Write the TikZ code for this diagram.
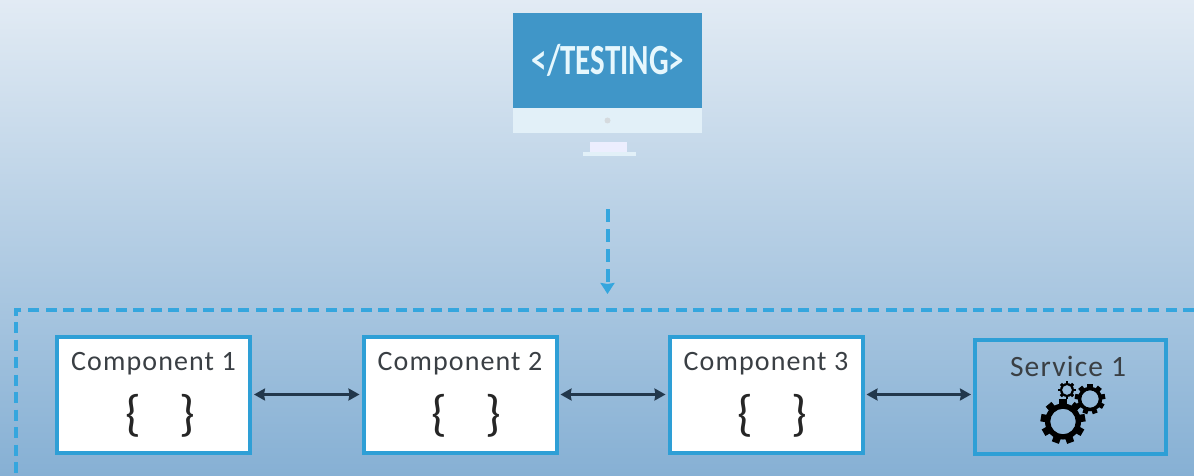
\documentclass[tikz,border=0pt]{standalone}
\usepackage{fontspec}
\usepackage{graphicx}
\setmainfont{Carlito}
\usetikzlibrary{arrows.meta}
\definecolor{frameblue}{HTML}{35A6DE}
\definecolor{boxblue}{HTML}{2E9FD6}
\definecolor{screenblue}{HTML}{4096C8}
\definecolor{bezel}{HTML}{E2F0F8}
\definecolor{labelgrey}{HTML}{3A3F44}
\definecolor{linkdark}{HTML}{22384C}
\newcommand{\gearshape}[4]{% x,y,radius,teeth
  \fill[black,even odd rule] (#1,#2) circle[radius=#3*0.58] (#1,#2) circle[radius=#3*0.82];
  \foreach \a in {1,...,#4}{
    \fill[black,rotate around={360/#4*\a:(#1,#2)}]
      (#1-#3*0.17,#2-#3*0.72) rectangle (#1+#3*0.17,#2-#3*1.02);
  }
}
\tikzset{
  x=1pt,y=-1pt,
  compbox/.style={draw=boxblue,line width=4pt,fill=white,minimum width=193pt,minimum height=116pt,inner sep=0pt},
  servicebox/.style={draw=boxblue,line width=4pt,fill=none,minimum width=191pt,minimum height=114pt,inner sep=0pt},
  complabel/.style={font=\fontsize{28}{30}\selectfont\addfontfeatures{LetterSpace=4},text=labelgrey,inner sep=0pt},
  servicelabel/.style={font=\fontsize{29.5}{31}\selectfont\addfontfeatures{LetterSpace=4},text=labelgrey,inner sep=0pt},
  bracelabel/.style={font=\fontsize{50}{52}\selectfont,text=black!85,inner sep=0pt},
  link/.style={draw=linkdark,line width=2.2pt,{Stealth[length=11pt,width=12pt,inset=1pt]}-{Stealth[length=11pt,width=12pt,inset=1pt]}},
  dashline/.style={draw=frameblue,line width=4pt,dash pattern=on 11pt off 6.5pt},
  dasharrow/.style={draw=frameblue,line width=4pt,dash pattern=on 13pt off 7pt,-{Stealth[length=11pt,width=14pt,inset=1pt]}},
}
\begin{document}
\begin{tikzpicture}
\useasboundingbox (0,0) rectangle (1194,476);
\shade[top color={rgb,255:red,226;green,235;blue,244},bottom color={rgb,255:red,134;green,176;blue,212}] (0,0) rectangle (1194,476);
% monitor
\fill[bezel] (513,108) rectangle (702,133);
\fill[screenblue] (513,13) rectangle (702,108);
\fill[white!60!gray!60!bezel] (607.5,120.5) circle[radius=3];
\fill[bezel!70!blue!20!white] (590,142) rectangle (627,152);
\fill[bezel] (583,152) rectangle (636,156.5);
\node[inner sep=0pt,text=white!90!cyan,font=\fontsize{43}{45}\selectfont\bfseries] (testing) at (608,60) {\scalebox{0.72}[1]{</TESTING>}};
\coordinate (monitorbase) at (607.5,209);
% frame
\draw[dashline] (1194,310) -- (16,310) -- (16,476);
\coordinate (frametop) at (607.5,294);
\draw[dasharrow] (monitorbase) -- (frametop);
% boxes
\node[compbox] (c1) at (153.5,394.5) {};
\node[compbox] (c2) at (460,394.5) {};
\node[compbox] (c3) at (766,394.5) {};
\node[servicebox] (s1) at (1070.5,397) {};
\node[complabel] at (153.5,364) {Component 1};
\node[complabel] at (460,364) {Component 2};
\node[complabel] at (766,364) {Component 3};
\node[servicelabel] at (1068,366.5) {Service 1};
\node[bracelabel] at (133,416) {\{};
\node[bracelabel] at (187,416) {\}};
\node[bracelabel] at (439,416) {\{};
\node[bracelabel] at (493,416) {\}};
\node[bracelabel] at (745,416) {\{};
\node[bracelabel] at (799,416) {\}};
% gears
\gearshape{1063}{421.5}{22}{9}
\gearshape{1090}{399}{15}{9}
\gearshape{1067}{390}{8.5}{8}
% links
\draw[link] ([xshift=2pt]c1.east) -- ([xshift=-2pt]c2.west);
\draw[link] ([xshift=2pt]c2.east) -- ([xshift=-2pt]c3.west);
\draw[link] ([xshift=2pt]c3.east) -- ([xshift=-2pt]c3.east -| s1.west);
\end{tikzpicture}
\end{document}
